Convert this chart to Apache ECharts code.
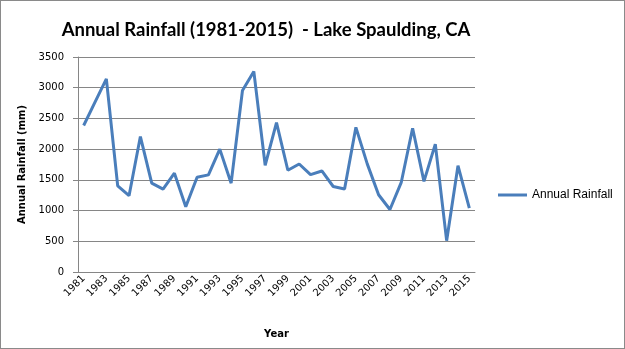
<!DOCTYPE html>
<html><head><meta charset="utf-8">
<script src="https://cdn.jsdelivr.net/npm/echarts@6/dist/echarts.min.js"></script>
<style>
html,body{margin:0;padding:0;background:#fff;}
#c{width:625px;height:349px;box-sizing:border-box;border:1px solid #8a8a8a;}
</style></head>
<body><div id="c"></div>
<script>
var years = ['1981','1982','1983','1984','1985','1986','1987','1988','1989','1990','1991','1992','1993','1994','1995','1996','1997','1998','1999','2000','2001','2002','2003','2004','2005','2006','2007','2008','2009','2010','2011','2012','2013','2014','2015'];
var rainfall = [2385,2765,3145,1403,1242,2205,1446,1350,1608,1063,1543,1581,2000,1446,2955,3265,1737,2432,1656,1758,1586,1645,1392,1352,2355,1760,1258,1018,1460,2340,1475,2082,510,1731,1038];
var yTicks = [0,500,1000,1500,2000,2500,3000,3500];

var chart = echarts.init(document.getElementById('c'));
chart.setOption({
  animation:false,
  title:{text:'Annual Rainfall (1981-2015)  - Lake Spaulding, CA',left:260,textAlign:'center',top:15,
    textStyle:{fontFamily:'Lato',fontWeight:'bold',fontSize:18.5,color:'#000'}},
  legend:{left:492,top:183,orient:'vertical',icon:'rect',itemWidth:29,itemHeight:3,itemGap:4,
    textStyle:{fontFamily:'Liberation Sans',fontSize:12,color:'#000'},
    data:['Annual Rainfall']},
  grid:{left:77,right:149,top:56,bottom:76},
  xAxis:{type:'category',data:years,boundaryGap:true,
    name:'Year',nameLocation:'middle',nameGap:57,
    nameTextStyle:{fontFamily:'DejaVu Sans',fontWeight:'bold',fontSize:10,color:'#000'},
    axisLine:{lineStyle:{color:'#868686'}},axisTick:{show:false},
    axisLabel:{interval:1,rotate:45,margin:5,fontFamily:'DejaVu Sans',fontSize:10,color:'#000'}},
  yAxis:{type:'value',min:yTicks[0],max:yTicks[yTicks.length-1],interval:500,
    name:'Annual Rainfall (mm)',nameLocation:'middle',nameGap:46,
    nameTextStyle:{fontFamily:'DejaVu Sans',fontWeight:'bold',fontSize:10,color:'#000'},
    axisLine:{show:true,lineStyle:{color:'#868686'}},
    axisTick:{show:true,length:5,lineStyle:{color:'#868686'}},
    splitLine:{lineStyle:{color:'#868686'}},
    axisLabel:{margin:14,fontFamily:'DejaVu Sans',fontSize:10,color:'#000',formatter:function(v){return String(v);}}},
  series:[{name:'Annual Rainfall',type:'line',data:rainfall,symbol:'none',
    lineStyle:{color:'#4a7ebb',width:3},itemStyle:{color:'#4a7ebb'}}]
});
</script></body></html>
